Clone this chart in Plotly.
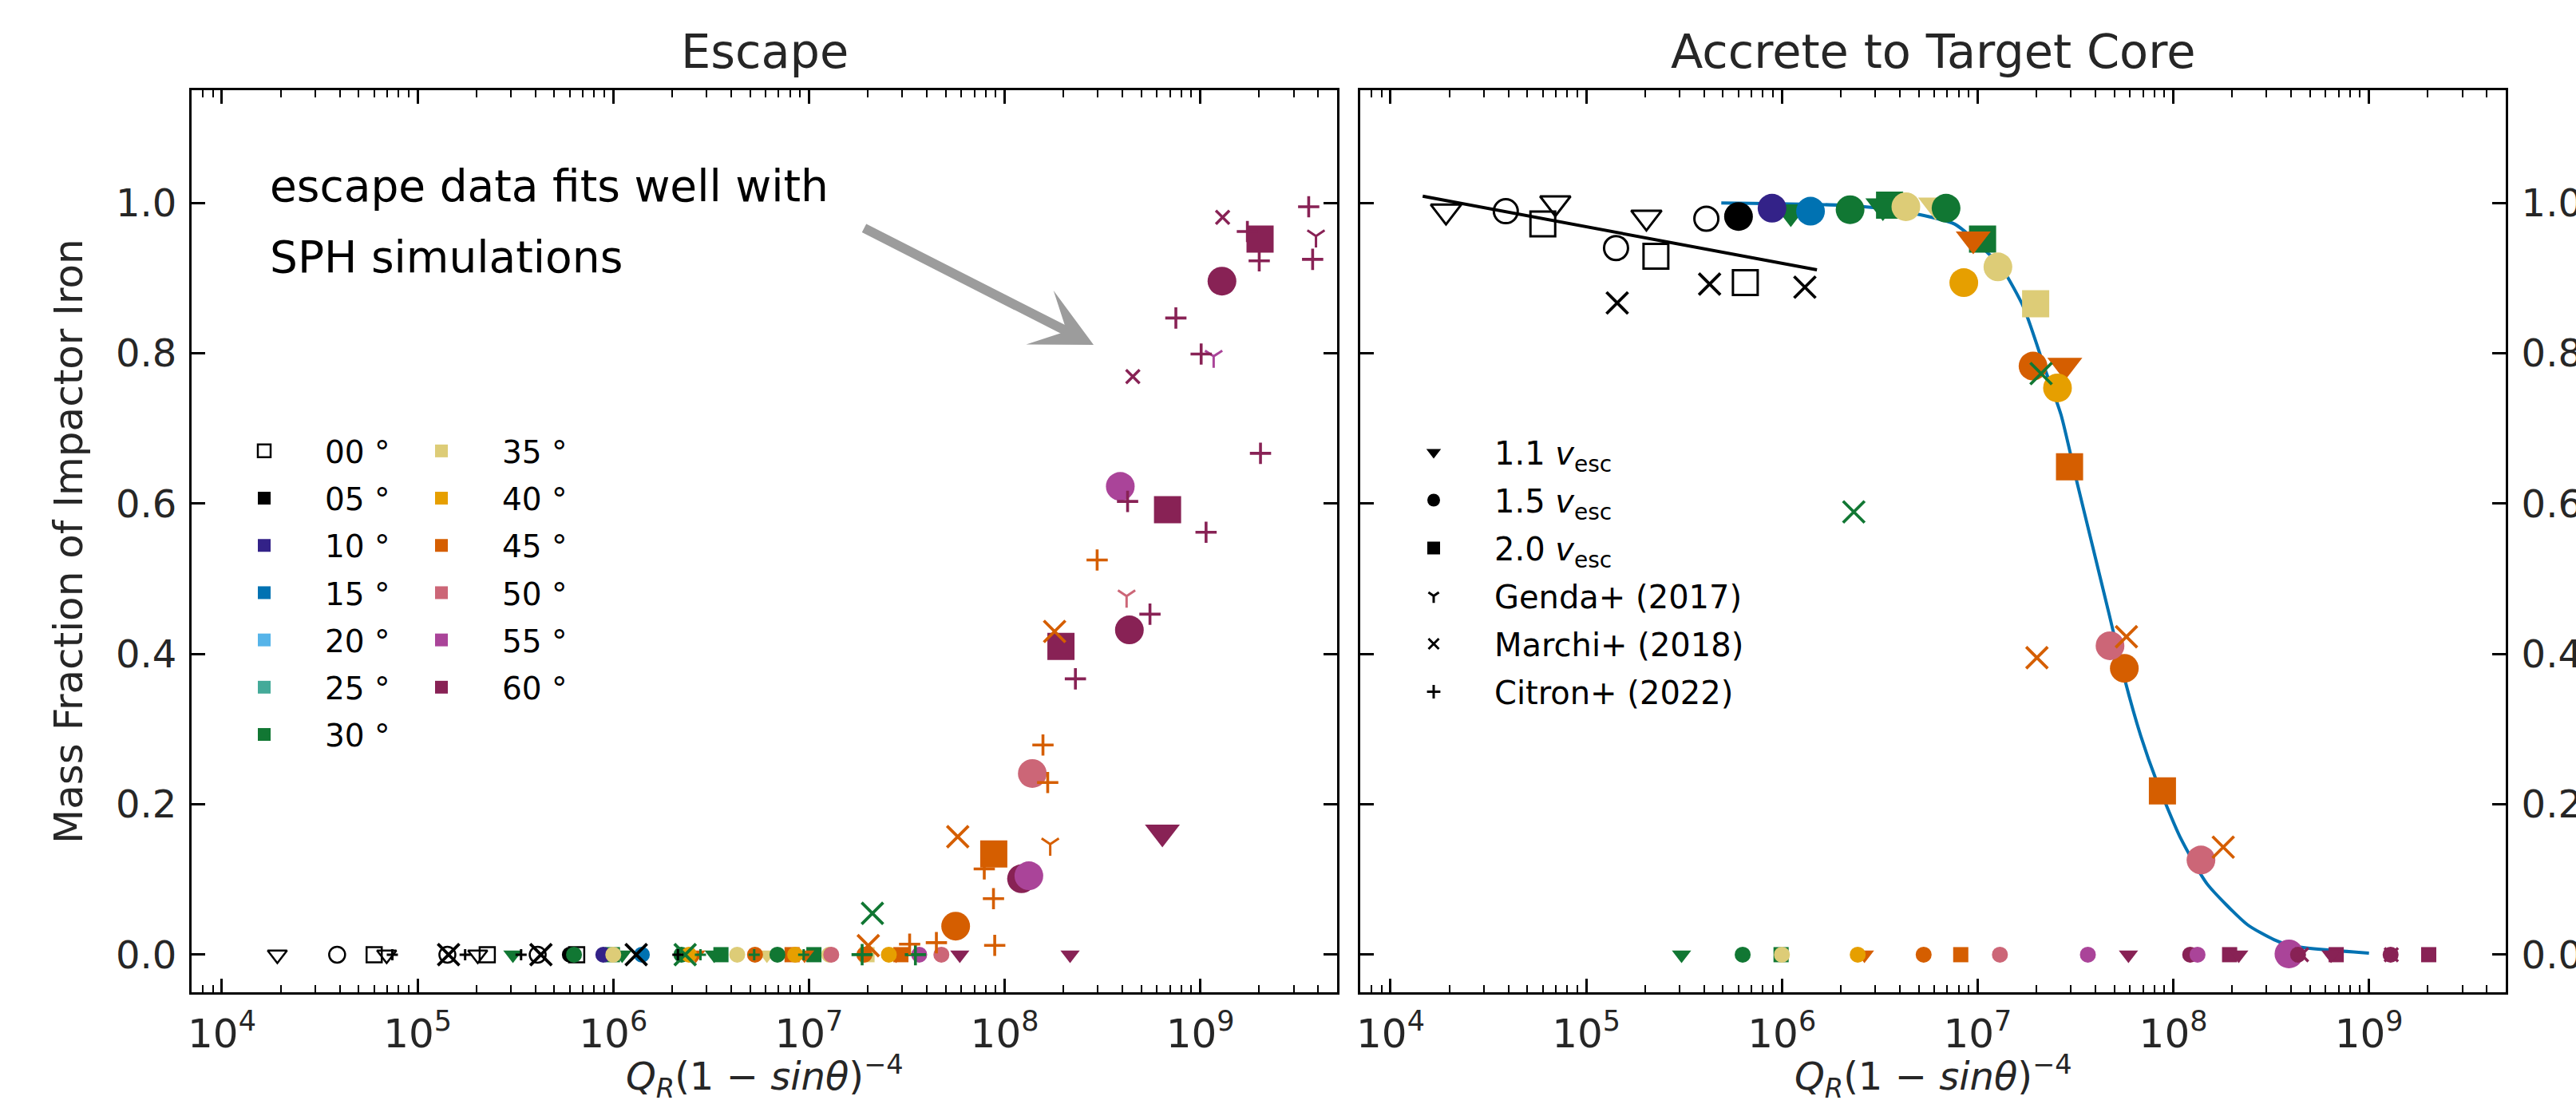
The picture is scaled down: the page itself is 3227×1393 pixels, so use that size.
import numpy as np
import plotly.graph_objects as go

# ------------------------------------------------------------------ data
ANGLES = [0, 5, 10, 15, 20, 25, 30, 35, 40, 45, 50, 55, 60]
ANGLE_COLORS = ["#000000", "#000000", "#332288", "#0072B2", "#56B4E9", "#44AA99", "#117733",
                "#DDCC77", "#E69F00", "#D55E00", "#CC6677", "#AA4499", "#882255"]
ANGLE_LABELS = ["00 °", "05 °", "10 °", "15 °", "20 °", "25 °", "30 °",
                "35 °", "40 °", "45 °", "50 °", "55 °", "60 °"]

# simulations, impact velocity 2.0 v_esc (squares)
SQ_ANGLE = [0, 0, 0, 30, 30, 30, 35, 45, 45, 45, 60, 60, 60]
SQ_Q = [6.0e4, 2.27e5, 6.5e5, 9.9e5, 3.55e6, 1.06e7, 1.98e7, 8.2e6, 2.95e7, 8.8e7, 1.94e8, 6.8e8, 2.02e9]
SQ_ESCAPE = [0, 0, 0, 0, 0, 0, 0, 0, 0, 0.134, 0.410, 0.592, 0.952]
SQ_CORE = [0.972, 0.929, 0.894, 0, 0.997, 0.952, 0.866, 0, 0.649, 0.218, 0, 0, 0]

# simulations, impact velocity 1.1 v_esc (triangles)
TRI_ANGLE = [0, 0, 0, 30, 30, 30, 35, 45, 45, 45, 60, 60, 60]
TRI_Q = [1.92e4, 6.95e4, 2.03e5, 3.07e5, 1.11e6, 3.28e6, 6.1e6, 2.64e6, 9.5e6, 2.79e7, 5.9e7, 2.16e8, 6.4e8]
TRI_ESCAPE = [0, 0, 0, 0, 0, 0, 0, 0, 0, 0, 0, 0, 0.163]
TRI_CORE = [0.989, 1.0, 0.981, 0, 0.988, 0.996, 0.997, 0, 0.952, 0.784, 0, 0, 0]

# simulations, impact velocity 1.5 v_esc (circles)
CIR_ANGLE = [0, 0, 0, 5, 10, 15, 30, 30, 30, 35, 35, 35, 40, 40, 40, 45, 45, 45,
             50, 50, 50, 55, 60, 55, 55, 60, 60]
CIR_Q = [3.88e4, 1.42e5, 4.11e5, 6.0e5, 8.9e5, 1.40e6, 6.3e5, 2.23e6, 6.9e6, 1.0e6, 4.3e6, 1.27e7,
         2.44e6, 8.5e6, 2.56e7, 5.3e6, 1.92e7, 5.62e7, 1.30e7, 4.75e7, 1.385e8, 3.66e7, 1.22e8,
         1.33e8, 3.9e8, 4.34e8, 1.29e9]
CIR_ESCAPE = [0, 0, 0, 0, 0, 0, 0, 0, 0, 0, 0, 0, 0, 0, 0, 0, 0, 0.038,
              0, 0, 0.241, 0, 0.101, 0.105, 0.623, 0.432, 0.896]
CIR_CORE = [0.989, 0.940, 0.979, 0.982, 0.993, 0.989, 0, 0.991, 0.993, 0, 0.995, 0.915,
            0, 0.894, 0.754, 0, 0.783, 0.381, 0, 0.411, 0.126, 0, 0, 0, 0.001, 0, 0]

# literature
GENDA_ANGLE = [45, 50, 55, 60]
GENDA_Q = [1.71e8, 4.2e8, 1.17e9, 3.9e9]
GENDA_ESCAPE = [0.147, 0.477, 0.796, 0.956]

MARCHI_ANGLE = [0, 0, 0, 30, 30, 45, 45, 45, 60, 60]
MARCHI_Q = [1.44e5, 4.27e5, 1.31e6, 2.33e6, 2.11e7, 2.01e7, 5.76e7, 1.8e8, 4.52e8, 1.30e9]
MARCHI_ESCAPE = [0, 0, 0, 0, 0.055, 0.012, 0.157, 0.430, 0.769, 0.981]
MARCHI_CORE = [0.867, 0.892, 0.888, 0.589, 0.773, 0.395, 0.423, 0.143, 0, 0]

CITRON_ANGLE = [0, 0, 0, 0, 30, 30, 30, 30, 30,
                45, 45, 45, 45, 45, 45, 45, 45,
                60, 60, 60, 60, 60, 60, 60, 60, 60, 60, 60]
CITRON_Q = [7.43e4, 1.75e5, 3.38e5, 2.14e6, 2.79e6, 5.25e6, 9.4e6, 1.87e7, 3.5e7,
            3.27e7, 4.48e7, 8.9e7, 8.77e7, 7.87e7, 1.66e8, 1.57e8, 2.97e8,
            2.3e8, 5.53e8, 1.07e9, 4.25e8, 2.03e9, 1.01e9, 7.5e8, 3.75e9, 2.0e9, 1.74e9, 3.58e9]
CITRON_ESCAPE = [0, 0, 0, 0, 0, 0, 0, 0, 0,
                 0.014, 0.016, 0.0124, 0.0745, 0.114, 0.229, 0.279, 0.525,
                 0.367, 0.453, 0.562, 0.603, 0.667, 0.799, 0.847, 0.925, 0.923, 0.962, 0.995]

# fits in the right panel
HEAD_ON_FIT_Q = [1.46e4, 1.51e6]
HEAD_ON_FIT_F = [1.009, 0.911]
CORE_FIT_Q = [4.9e5, 1.0e6, 2.0e6, 3.16e6, 4.76e6, 7.62e6, 1.0e7, 1.34e7, 1.72e7, 2.21e7, 2.67e7,
              3.21e7, 3.88e7, 4.69e7, 5.65e7, 6.82e7, 8.24e7, 1.09e8, 1.49e8, 2.39e8, 3.27e8,
              4.17e8, 1.0e9]
CORE_FIT_F = [1.000, 0.999, 0.997, 0.993, 0.986, 0.972, 0.947, 0.912, 0.861, 0.779, 0.718,
              0.630, 0.542, 0.454, 0.366, 0.291, 0.230, 0.155, 0.094, 0.040, 0.020,
              0.011, 0.002]

VEL_LABELS = ["1.1 <i>v</i><sub>esc</sub>", "1.5 <i>v</i><sub>esc</sub>", "2.0 <i>v</i><sub>esc</sub>"]
LIT_LABELS = ["Genda+ (2017)", "Marchi+ (2018)", "Citron+ (2022)"]

X_RANGE = [7e3, 5e9]
Y_RANGE = [-0.05, 1.15]
Y_TICKS = [0.0, 0.2, 0.4, 0.6, 0.8, 1.0]

# ------------------------------------------------------------------ layout helpers
FONT = "DejaVu Sans"
W, H = 3227, 1393
L_X0, L_X1 = 240, 1675
R_X0, R_X1 = 1704, 3139
Y_TOP, Y_BOT = 113, 1243
TXT = "#262626"


def px(x):
    return x / W


def py(y):
    return 1 - y / H


def color_of(a):
    return ANGLE_COLORS[ANGLES.index(a)]


SYM = {"tri": "triangle-down", "cir": "circle", "sq": "square"}
BIG = {"tri": 38, "cir": 36, "sq": 34}
OPEN = {"tri": 33, "cir": 30, "sq": 31}
SMALL = {"tri": 21, "cir": 20, "sq": 19}


def sim_trace(kind, angs, qs, vals, xa, ya):
    symbols, sizes, colors, lws = [], [], [], []
    for a, v in zip(angs, vals):
        zero = (v == 0)
        if a == 0:
            symbols.append(SYM[kind] + "-open")
            sizes.append(SMALL[kind] if zero else OPEN[kind])
            lws.append(2.5 if zero else 3)
        else:
            symbols.append(SYM[kind])
            sizes.append(SMALL[kind] if zero else BIG[kind])
            lws.append(0)
        colors.append(color_of(a))
    return go.Scatter(x=qs, y=vals, mode="markers", xaxis=xa, yaxis=ya, showlegend=False,
                      hoverinfo="skip",
                      marker=dict(symbol=symbols, size=sizes, color=colors, opacity=1,
                                  line=dict(width=lws, color=colors)))


def lit_trace(symbol, angs, qs, vals, sizes, lws, xa, ya):
    colors = [color_of(a) for a in angs]
    return go.Scatter(x=qs, y=vals, mode="markers", xaxis=xa, yaxis=ya, showlegend=False,
                      hoverinfo="skip",
                      marker=dict(symbol=symbol, size=sizes, color=colors, opacity=1,
                                  line=dict(width=lws, color=colors)))


fig = go.Figure()

# ---------------- left panel: escape
for kind, angs, qs, vals in [("sq", SQ_ANGLE, SQ_Q, SQ_ESCAPE),
                             ("tri", TRI_ANGLE, TRI_Q, TRI_ESCAPE),
                             ("cir", CIR_ANGLE, CIR_Q, CIR_ESCAPE)]:
    fig.add_trace(sim_trace(kind, angs, qs, vals, "x", "y"))

fig.add_trace(lit_trace("y-down", GENDA_ANGLE, GENDA_Q, GENDA_ESCAPE,
                        [18] * len(GENDA_Q), 3, "x", "y"))
fig.add_trace(lit_trace("x-thin", MARCHI_ANGLE, MARCHI_Q, MARCHI_ESCAPE,
                        [17 if a == 60 else 27 for a in MARCHI_ANGLE],
                        [3.5 if a == 60 else 3.8 for a in MARCHI_ANGLE], "x", "y"))
cit_small = [(v == 0 and q < 1.5e7) for q, v in zip(CITRON_Q, CITRON_ESCAPE)]
fig.add_trace(lit_trace("cross-thin", CITRON_ANGLE, CITRON_Q, CITRON_ESCAPE,
                        [10 if s else 19 for s in cit_small],
                        [3 if s else 3.6 for s in cit_small], "x", "y"))

# ---------------- right panel: accrete to target core
fig.add_trace(go.Scatter(x=HEAD_ON_FIT_Q, y=HEAD_ON_FIT_F, mode="lines", xaxis="x2", yaxis="y2",
                         line=dict(color="black", width=4), showlegend=False, hoverinfo="skip"))
fig.add_trace(go.Scatter(x=CORE_FIT_Q, y=CORE_FIT_F, mode="lines", xaxis="x2", yaxis="y2",
                         line=dict(color="#0072B2", width=4, shape="spline", smoothing=0.6),
                         showlegend=False, hoverinfo="skip"))
for kind, angs, qs, vals in [("sq", SQ_ANGLE, SQ_Q, SQ_CORE),
                             ("tri", TRI_ANGLE, TRI_Q, TRI_CORE),
                             ("cir", CIR_ANGLE, CIR_Q, CIR_CORE)]:
    fig.add_trace(sim_trace(kind, angs, qs, vals, "x2", "y2"))
fig.add_trace(lit_trace("x-thin", MARCHI_ANGLE, MARCHI_Q, MARCHI_CORE,
                        [17 if a == 60 else 27 for a in MARCHI_ANGLE],
                        [3.5 if a == 60 else 3.8 for a in MARCHI_ANGLE], "x2", "y2"))

# ---------------- legends
for i, (a, lab, col) in enumerate(zip(ANGLES, ANGLE_LABELS, ANGLE_COLORS)):
    fig.add_trace(go.Scatter(
        x=[None], y=[None], mode="markers", xaxis="x", yaxis="y", name=lab,
        legend="legend" if i < 7 else "legend2", legendgroup=f"ang{a}",
        marker=dict(symbol="square-open" if a == 0 else "square", size=16, color=col,
                    opacity=1, line=dict(width=2.5 if a == 0 else 0, color=col))))

for lab, sym in zip(VEL_LABELS, ["triangle-down", "circle", "square"]):
    fig.add_trace(go.Scatter(x=[None], y=[None], mode="markers", xaxis="x2", yaxis="y2",
                             name=lab, legend="legend3", legendgroup=lab,
                             marker=dict(symbol=sym, size=16, color="black", opacity=1)))
for lab, sym, sz in zip(LIT_LABELS, ["y-down", "x-thin", "cross-thin"], [11, 13, 12]):
    fig.add_trace(go.Scatter(x=[None], y=[None], mode="markers", xaxis="x2", yaxis="y2",
                             name=lab, legend="legend3", legendgroup=lab,
                             marker=dict(symbol=sym, size=sz, color="black", opacity=1,
                                         line=dict(width=3, color="black"))))

# ---------------- axes
xr = [np.log10(X_RANGE[0]), np.log10(X_RANGE[1])]
xcommon = dict(type="log", range=xr, showline=True, linecolor="black", linewidth=3,
               mirror="allticks", ticks="inside", ticklen=17, tickwidth=2.5, tickcolor="black",
               dtick=1, exponentformat="power", showgrid=False, zeroline=False,
               automargin=False,
               tickfont=dict(family=FONT, size=40, color=TXT), ticklabelstandoff=8,
               minor=dict(ticks="inside", ticklen=9, tickwidth=2, tickcolor="black",
                          dtick="D1", showgrid=False))
ycommon = dict(range=Y_RANGE, tickvals=Y_TICKS, tickformat=".1f", showline=True,
               linecolor="black", linewidth=3, mirror="allticks", ticks="inside",
               ticklen=17, tickwidth=2.5, tickcolor="black", showgrid=False, zeroline=False,
               automargin=False,
               tickfont=dict(family=FONT, size=48, color=TXT))

fig.update_layout(
    width=W, height=H, autosize=False,
    margin=dict(l=0, r=0, t=0, b=0, autoexpand=False),
    paper_bgcolor="white", plot_bgcolor="white",
    font=dict(family=FONT, color=TXT),
    xaxis=dict(domain=[px(L_X0), px(L_X1)], anchor="y", **xcommon),
    yaxis=dict(domain=[py(Y_BOT), py(Y_TOP)], anchor="x", side="left",
               ticklabelstandoff=6, **ycommon),
    xaxis2=dict(domain=[px(R_X0), px(R_X1)], anchor="y2", **xcommon),
    yaxis2=dict(domain=[py(Y_BOT), py(Y_TOP)], anchor="x2", side="right",
                ticklabelstandoff=7, **ycommon),
    legend=dict(x=px(255), y=py(533), xanchor="left", yanchor="top",
                font=dict(family=FONT, size=39, color="black"), bgcolor="rgba(0,0,0,0)",
                borderwidth=0, itemwidth=142, tracegroupgap=5.5),
    legend2=dict(x=px(477), y=py(533), xanchor="left", yanchor="top",
                 font=dict(family=FONT, size=39, color="black"), bgcolor="rgba(0,0,0,0)",
                 borderwidth=0, itemwidth=142, tracegroupgap=5.5),
    legend3=dict(x=px(1720), y=py(534), xanchor="left", yanchor="top",
                 font=dict(family=FONT, size=40, color="black"), bgcolor="rgba(0,0,0,0)",
                 borderwidth=0, itemwidth=142, tracegroupgap=5),
)

ann = []
ann.append(dict(text="Escape", x=px((L_X0 + L_X1) / 2), y=py(64), xref="paper", yref="paper",
                showarrow=False, xanchor="center", yanchor="middle",
                font=dict(family=FONT, size=59, color=TXT)))
ann.append(dict(text="Accrete to Target Core", x=px((R_X0 + R_X1) / 2), y=py(64),
                xref="paper", yref="paper", showarrow=False, xanchor="center",
                yanchor="middle", font=dict(family=FONT, size=59, color=TXT)))
ann.append(dict(text="Mass Fraction of Impactor Iron", x=px(86), y=py((Y_TOP + Y_BOT) / 2),
                xref="paper", yref="paper", showarrow=False, textangle=-90,
                xanchor="center", yanchor="middle", font=dict(family=FONT, size=50, color=TXT)))
xlab = "<i>Q</i><sub><i>R</i></sub>(1 − <i>sinθ</i>)<sup>−4</sup>"
for cx in [(L_X0 + L_X1) / 2, (R_X0 + R_X1) / 2]:
    ann.append(dict(text=xlab, x=px(cx), y=py(1348), xref="paper", yref="paper",
                    showarrow=False, xanchor="center", yanchor="middle",
                    font=dict(family=FONT, size=48, color=TXT)))
ann.append(dict(text="escape data fits well with", x=px(336), y=py(233), xref="paper",
                yref="paper", showarrow=False, xanchor="left", yanchor="middle",
                font=dict(family=FONT, size=55, color="black")))
ann.append(dict(text="SPH simulations", x=px(336), y=py(322), xref="paper",
                yref="paper", showarrow=False, xanchor="left", yanchor="middle",
                font=dict(family=FONT, size=55, color="black")))
ann.append(dict(text="", x=px(1370), y=py(432), xref="paper", yref="paper",
                showarrow=True, ax=-289, ay=-147, arrowhead=3, arrowwidth=12, arrowsize=1.05,
                arrowcolor="#9c9c9c", standoff=0))
fig.update_layout(annotations=ann)

fig.write_html("out.html", include_plotlyjs=True, config={"displayModeBar": False},
               post_script="document.body.style.margin='0';document.body.style.overflow='hidden';")
